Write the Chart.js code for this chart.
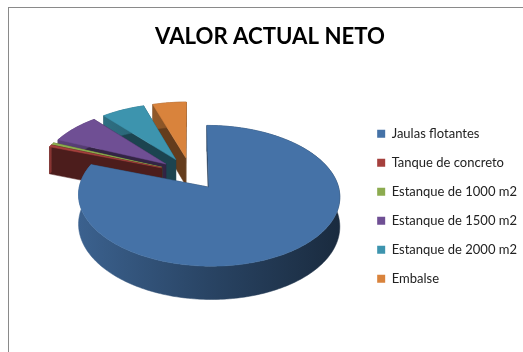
<!DOCTYPE html>
<html>
<head>
<meta charset="utf-8">
<title>Valor actual neto</title>
<script src="https://cdn.jsdelivr.net/npm/chart.js@4"></script>
<style>
  html, body { margin: 0; background: #fff; }
  #frame { position: absolute; left: 8px; top: 7px; width: 515px; height: 345px; box-sizing: border-box;
           border-left: 1.5px solid #8a8a8a; border-top: 1.5px solid #8a8a8a; }
  #wrap { position: absolute; left: 0; top: 0; width: 523px; height: 352px; }
</style>
</head>
<body>
<div id="frame"></div>
<div id="wrap"><canvas id="myChart"></canvas></div>
<script>
const categories = ['Jaulas flotantes', 'Tanque de concreto', 'Estanque de 1000 m2', 'Estanque de 1500 m2', 'Estanque de 2000 m2', 'Embalse'];
const valorActualNeto = [80.5, 0.5, 0.5, 7.3, 6.3, 4.9];
const sliceColors = ['#4572a7', '#a5403d', '#8cab4f', '#6f4f94', '#3d94ae', '#d9833c'];

// fake 3D camera: the pie lies on a plane seen with some perspective
const camera = { x: 190.5, y: 173.5, scaleX: 126.5, scaleY: 66, persp: 0.12, depth: 28.5 };

function project(px, py, z) {
  const s = 1 / (1 + camera.persp * py);
  return [camera.x + camera.scaleX * px * s, camera.y - camera.scaleY * py * s + camera.depth * s * z];
}

function shade(hex, f) {
  const n = parseInt(hex.slice(1), 16);
  const c = [n >> 16, (n >> 8) & 255, n & 255].map(v => Math.round(v * f));
  return 'rgb(' + c.join(',') + ')';
}

function fillPoly(ctx, pts, color) {
  ctx.beginPath();
  pts.forEach((p, i) => i ? ctx.lineTo(p[0], p[1]) : ctx.moveTo(p[0], p[1]));
  ctx.closePath();
  ctx.fillStyle = color;
  ctx.fill();
  ctx.strokeStyle = color;
  ctx.lineWidth = 0.5;
  ctx.stroke();
}

function drawSlice(ctx, arc) {
  const color = arc.options.backgroundColor;
  const mid = (arc.startAngle + arc.endAngle) / 2;
  const explode = arc.options.offset / arc.outerRadius;
  const ox = Math.cos(mid) * explode, oy = -Math.sin(mid) * explode;
  const at = (a, r, z) => project(ox + Math.cos(a) * r, oy - Math.sin(a) * r, z);

  const rim = [];
  const steps = Math.max(2, Math.ceil((arc.endAngle - arc.startAngle) / 0.02));
  for (let i = 0; i <= steps; i++) {
    rim.push(arc.startAngle + (arc.endAngle - arc.startAngle) * i / steps);
  }

  // radial walls
  const dark = shade(color, 0.46);
  [arc.endAngle, arc.startAngle].forEach(a => {
    fillPoly(ctx, [at(a, 0, 0), at(a, 1, 0), at(a, 1, 1), at(a, 0, 1)], dark);
  });

  // outer wall, lighter on the left and dark to the right
  const left = at(Math.PI, 1, 0)[0], right = at(0, 1, 0)[0];
  const grad = ctx.createLinearGradient(left, 0, right, 0);
  grad.addColorStop(0, shade(color, 0.85));
  grad.addColorStop(0.5, shade(color, 0.6));
  grad.addColorStop(1, shade(color, 0.38));
  fillPoly(ctx, rim.map(a => at(a, 1, 0)).concat(rim.slice().reverse().map(a => at(a, 1, 1))), grad);

  // top face
  fillPoly(ctx, [at(0, 0, 0)].concat(rim.map(a => at(a, 1, 0))), color);
}

const pie3d = {
  id: 'pie3d',
  beforeDatasetDraw(chart, args) {
    const arcs = chart.getDatasetMeta(args.index).data;
    const ctx = chart.ctx;
    // back to front: Embalse first, the big slice last
    for (let i = arcs.length - 1; i >= 0; i--) {
      drawSlice(ctx, arcs[i]);
    }
    return false;
  }
};

new Chart(document.getElementById('myChart'), {
  type: 'pie',
  data: {
    labels: categories,
    datasets: [{
      data: valorActualNeto,
      backgroundColor: sliceColors,
      borderWidth: 0,
      offset: 32
    }]
  },
  plugins: [pie3d],
  options: {
    responsive: true,
    maintainAspectRatio: false,
    animation: false,
    layout: { padding: { left: 13, right: -4 } },
    plugins: {
      tooltip: { enabled: false },
      title: {
        display: true,
        text: 'VALOR ACTUAL NETO',
        color: '#000',
        font: { family: 'Lato', size: 22.2, weight: 'bold' },
        padding: { top: 24, bottom: 10 }
      },
      legend: {
        position: 'right',
        fullSize: false,
        labels: {
          boxWidth: 8,
          boxHeight: 8,
          padding: 16,
          color: '#222',
          font: { family: 'Lato', size: 13 }
        }
      }
    }
  }
});
</script>
</body>
</html>
